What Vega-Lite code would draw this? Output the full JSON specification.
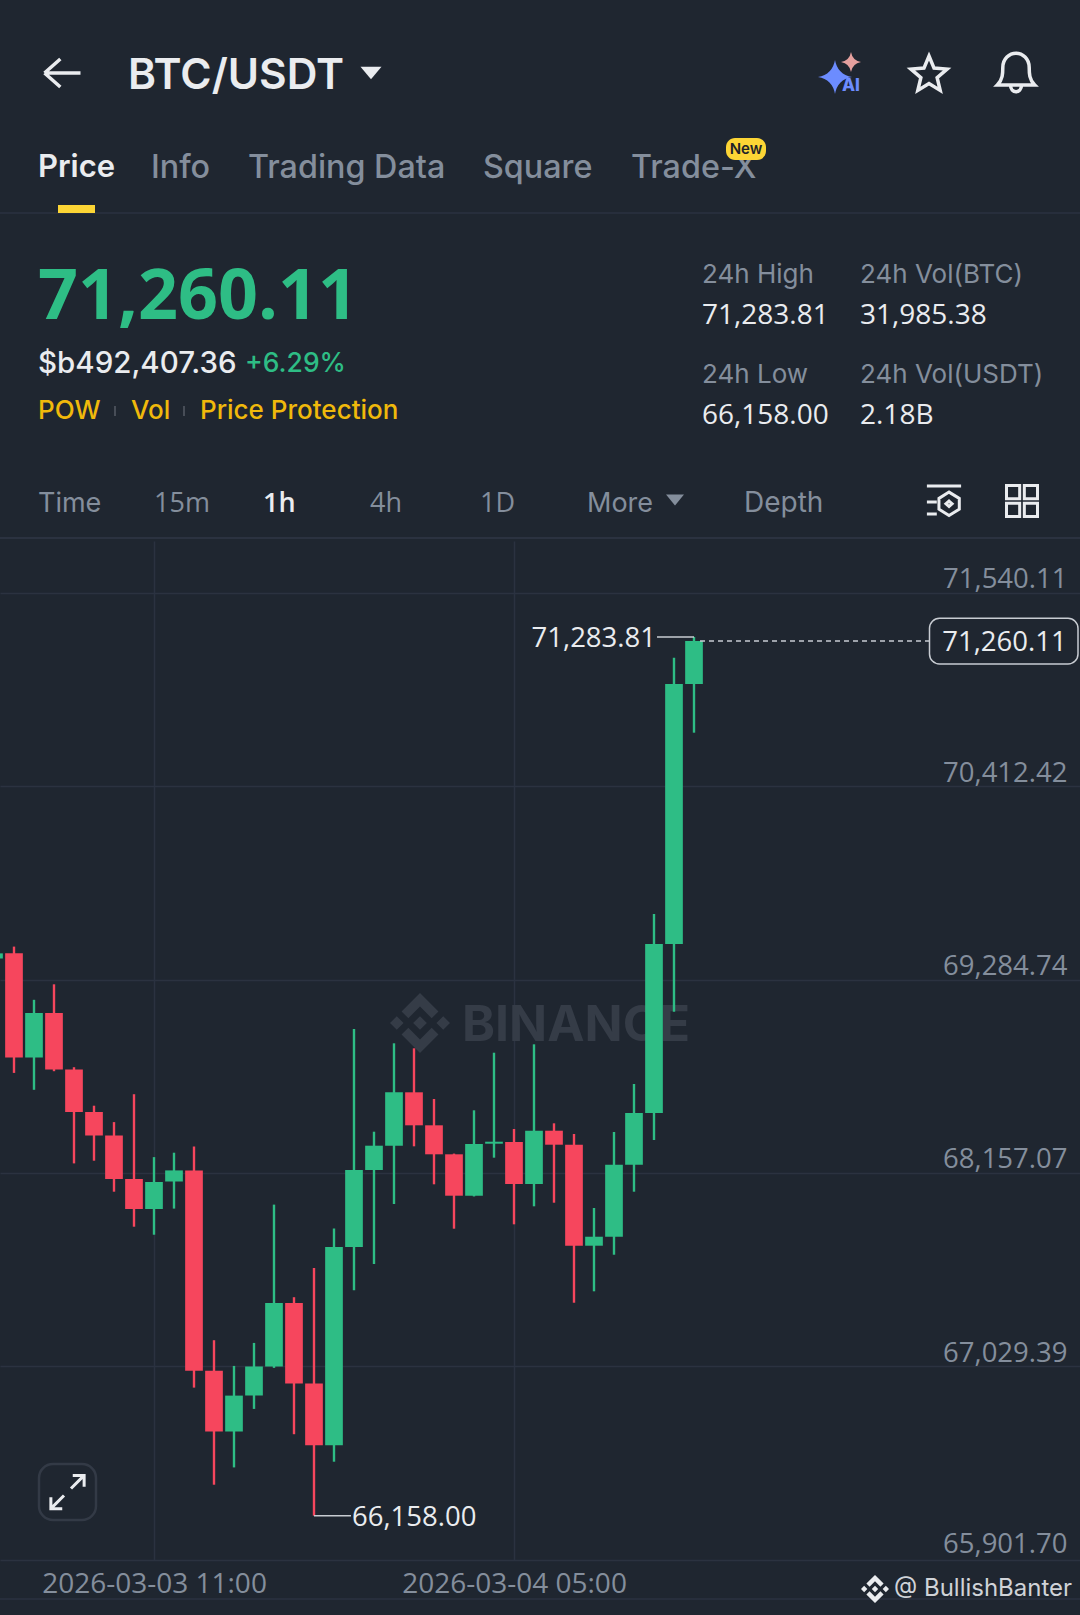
{"$schema":"https://vega.github.io/schema/vega-lite/v6.json","width":1080,"height":1019,"autosize":{"type":"none"},"padding":{"top":541,"left":0,"right":0,"bottom":55},"background":"#1F2630","config":{"view":{"stroke":null},"text":{"font":"Inter","baseline":"middle","align":"left"}},
"data":{"name":"one"},
"datasets":{"one":[{"id":1}],"candles":[
{"time":"2026-03-03T03:00:00Z","open":69408,"high":69445,"low":69400,"close":69438},
{"time":"2026-03-03T04:00:00Z","open":69438.9,"high":69477.4,"low":68740.7,"close":68831.1},
{"time":"2026-03-03T05:00:00Z","open":68831.1,"high":69167.1,"low":68642.1,"close":69089.5},
{"time":"2026-03-03T06:00:00Z","open":69089.5,"high":69257.5,"low":68750.6,"close":68761.1},
{"time":"2026-03-03T07:00:00Z","open":68761.1,"high":68773.9,"low":68212.8,"close":68513.2},
{"time":"2026-03-03T08:00:00Z","open":68513.2,"high":68549.4,"low":68228.5,"close":68376.1},
{"time":"2026-03-03T09:00:00Z","open":68376.1,"high":68453.7,"low":68047.7,"close":68122.4},
{"time":"2026-03-03T10:00:00Z","open":68122.4,"high":68616.4,"low":67843.5,"close":67946.8},
{"time":"2026-03-03T11:00:00Z","open":67946.8,"high":68249.5,"low":67796.8,"close":68104.3},
{"time":"2026-03-03T12:00:00Z","open":68107.2,"high":68275.2,"low":67949.1,"close":68171.9},
{"time":"2026-03-03T13:00:00Z","open":68171.9,"high":68311.4,"low":66904.9,"close":67002.9},
{"time":"2026-03-03T14:00:00Z","open":67002.9,"high":67181.4,"low":66338.5,"close":66648.9},
{"time":"2026-03-03T15:00:00Z","open":66648.9,"high":67031.5,"low":66439.4,"close":66858.3},
{"time":"2026-03-03T16:00:00Z","open":66858.3,"high":67165.7,"low":66780.7,"close":67028.6},
{"time":"2026-03-03T17:00:00Z","open":67028.6,"high":67972.4,"low":67020,"close":67398.5},
{"time":"2026-03-03T18:00:00Z","open":67398.5,"high":67432.3,"low":66633.1,"close":66929.4},
{"time":"2026-03-03T19:00:00Z","open":66929.4,"high":67602.6,"low":66158,"close":66568.4},
{"time":"2026-03-03T20:00:00Z","open":66568.4,"high":67833.1,"low":66472.7,"close":67724.5},
{"time":"2026-03-03T21:00:00Z","open":67724.5,"high":68996.8,"low":67472.5,"close":68174.3},
{"time":"2026-03-03T22:00:00Z","open":68174.3,"high":68397.7,"low":67625.9,"close":68316.1},
{"time":"2026-03-03T23:00:00Z","open":68316.1,"high":68913.4,"low":67975.9,"close":68627.5},
{"time":"2026-03-04T00:00:00Z","open":68627.5,"high":68884.2,"low":68312.5,"close":68435},
{"time":"2026-03-04T01:00:00Z","open":68435,"high":68588.5,"low":68090.9,"close":68265.9},
{"time":"2026-03-04T02:00:00Z","open":68265.9,"high":68270,"low":67831.9,"close":68024.4},
{"time":"2026-03-04T03:00:00Z","open":68024.4,"high":68522.5,"low":68020,"close":68326},
{"time":"2026-03-04T04:00:00Z","open":68327.7,"high":68858.5,"low":68246.1,"close":68339.4},
{"time":"2026-03-04T05:00:00Z","open":68337.6,"high":68413.5,"low":67857.5,"close":68092.6},
{"time":"2026-03-04T06:00:00Z","open":68092.6,"high":68907.5,"low":67962.5,"close":68403.5},
{"time":"2026-03-04T07:00:00Z","open":68403.5,"high":68446.7,"low":67983.5,"close":68321.9},
{"time":"2026-03-04T08:00:00Z","open":68321.9,"high":68384.3,"low":67400.1,"close":67732.7},
{"time":"2026-03-04T09:00:00Z","open":67732.7,"high":67952.6,"low":67466.7,"close":67785.1},
{"time":"2026-03-04T10:00:00Z","open":67785.1,"high":68395.9,"low":67680.1,"close":68205.2},
{"time":"2026-03-04T11:00:00Z","open":68205.2,"high":68675.9,"low":68047.7,"close":68506.8},
{"time":"2026-03-04T12:00:00Z","open":68506.8,"high":69667.6,"low":68349.3,"close":69492.6},
{"time":"2026-03-04T13:00:00Z","open":69492.6,"high":71162.7,"low":69097.7,"close":71009.3},
{"time":"2026-03-04T14:00:00Z","open":71009.3,"high":71283.81,"low":70725.2,"close":71260.11}
],
"extremes":[
{"from":"2026-03-04T12:09:00Z","to":"2026-03-04T14:00:00Z","price":71283.81,"label":"71,283.81"},
{"from":"2026-03-03T19:00:00Z","to":"2026-03-03T20:51:00Z","price":66158,"label":"66,158.00"}
],
"last":[{"from":"2026-03-04T14:18:00Z","to":"2026-03-05T01:46:30Z","price":71260.11,"label":"71,260.11","boxEnd":"2026-03-05T09:12:00Z","top":71392.5,"bottom":71125.9}]
},
"layer":[
{"data":{"name":"candles"},"mark":{"type":"rule","opacity":0},"encoding":{
"x":{"field":"time","type":"temporal","title":null,"scale":{"type":"utc","padding":0,"domain":["2026-03-03T03:18:00Z","2026-03-05T09:18:00Z"]},"axis":{"orient":"bottom","values":[{"year":2026,"month":"mar","date":3,"hours":11,"utc":true},{"year":2026,"month":"mar","date":4,"hours":5,"utc":true}],"format":"%Y-%m-%d %H:%M","grid":true,"gridColor":"#2B3240","gridWidth":1.5,"domain":false,"ticks":false,"labelColor":"#848E9C","labelFont":"Open Sans","labelFontSize":28,"labelPadding":24,"labelBaseline":"middle","labelFlush":false,"labelOverlap":false,"labelLimit":400}},
"y":{"field":"low","type":"quantitative","title":null,"scale":{"domain":[65899.4,71843.4],"nice":false,"zero":false},"axis":{"orient":"right","values":[71540.11,70412.42,69284.74,68157.07,67029.39,65901.7],"format":",.2f","grid":true,"gridColor":"#2B3240","gridWidth":1.5,"domain":false,"ticks":false,"labelColor":"#848E9C","labelFont":"Open Sans","labelFontSize":27.5,"labelAlign":"right","labelBaseline":"middle","labelPadding":-13,"labelOffset":{"condition":{"test":"datum.value<66000","value":-15},"value":-13},"labelFlush":false,"labelBound":false,"labelOverlap":false}}}},
{"mark":{"type":"text","text":"BINANCE","font":"Inter","fontWeight":700,"fontSize":50,"fill":"#353C47"},"encoding":{"x":{"value":462},"y":{"value":485}}},
{"mark":{"type":"point","shape":"M-.388,-.16L0,-.548L.389,-.159L.615,-.385L0,-1L-.614,-.385ZM-1,0L-.774,-.226L-.548,0L-.774,.226ZM-.388,.16L0,.548L.389,.16L.615,.385L0,1L-.615,.386ZM.548,0L.774,-.226L1,0L.774,.226ZM.229,0L0,-.229L-.229,0L0,.229Z","size":3600,"filled":true,"fill":"#353C47","stroke":null,"opacity":1},"encoding":{"x":{"value":420},"y":{"value":482}}},
{"data":{"name":"candles"},"mark":{"type":"rule","strokeWidth":2.4},"encoding":{"x":{"field":"time","type":"temporal"},"y":{"field":"low","type":"quantitative"},"y2":{"field":"high"},"color":{"condition":{"test":"datum.close>=datum.open","value":"#2EBD85"},"value":"#F6465D"}}},
{"data":{"name":"candles"},"mark":{"type":"bar","size":17.7},"encoding":{"x":{"field":"time","type":"temporal"},"y":{"field":"open","type":"quantitative"},"y2":{"field":"close"},"color":{"condition":{"test":"datum.close>=datum.open","value":"#2EBD85"},"value":"#F6465D"}}},
{"data":{"name":"extremes"},"mark":{"type":"rule","stroke":"#C8CCD2","strokeWidth":1.5},"encoding":{"x":{"field":"from","type":"temporal"},"x2":{"field":"to"},"y":{"field":"price","type":"quantitative"}}},
{"data":{"name":"extremes"},"transform":[{"filter":"datum.price>70000"}],"mark":{"type":"text","align":"right","font":"Open Sans","fontSize":27.5,"fill":"#EAECEF","dx":-1,"dy":2},"encoding":{"x":{"field":"from","type":"temporal"},"y":{"field":"price","type":"quantitative"},"text":{"field":"label"}}},
{"data":{"name":"extremes"},"transform":[{"filter":"datum.price<70000"}],"mark":{"type":"text","align":"left","font":"Open Sans","fontSize":27.5,"fill":"#EAECEF","dx":1,"dy":2},"encoding":{"x":{"field":"to","type":"temporal"},"y":{"field":"price","type":"quantitative"},"text":{"field":"label"}}},
{"data":{"name":"last"},"mark":{"type":"rule","stroke":"#C8CCD2","strokeWidth":1.5,"strokeDash":[5,4]},"encoding":{"x":{"field":"from","type":"temporal"},"x2":{"field":"to"},"y":{"field":"price","type":"quantitative"}}},
{"data":{"name":"last"},"mark":{"type":"rect","fill":"#1F2630","stroke":"#C8CCD2","strokeWidth":1.5,"cornerRadius":10},"encoding":{"x":{"field":"to","type":"temporal"},"x2":{"field":"boxEnd"},"y":{"field":"top","type":"quantitative"},"y2":{"field":"bottom"}}},
{"data":{"name":"last"},"mark":{"type":"text","align":"center","font":"Open Sans","fontSize":27.5,"fill":"#EAECEF","dx":75,"dy":2},"encoding":{"x":{"field":"to","type":"temporal"},"y":{"field":"price","type":"quantitative"},"text":{"field":"label"}}},

{"mark":{"type":"rule","stroke":"#2B3240","strokeWidth":1.5},"encoding":{"x":{"value":0},"x2":{"value":1080},"y":{"value":-328}}},
{"mark":{"type":"rule","stroke":"#2B3240","strokeWidth":2},"encoding":{"x":{"value":0},"x2":{"value":1080},"y":{"value":-3}}},
{"mark":{"type":"rule","stroke":"#2B3240","strokeWidth":1.5},"encoding":{"x":{"value":0},"x2":{"value":1080},"y":{"value":1058}}},
{"mark":{"type":"rect","fill":"#FCD535"},"encoding":{"x":{"value":58},"x2":{"value":95},"y":{"value":-336},"y2":{"value":-328}}},

{"mark":{"type":"point","shape":"M-1,0H1M-1,0L-.12,-.78M-1,0L-.12,.78","size":1296,"filled":false,"stroke":"#EAECEF","strokeWidth":3.5,"opacity":1},"encoding":{"x":{"value":62.5},"y":{"value":-468}}},
{"mark":{"type":"text","text":"BTC/USDT","fontSize":42.5,"fontWeight":600,"fill":"#EAECEF"},"encoding":{"x":{"value":128},"y":{"value":-465}}},
{"mark":{"type":"point","shape":"M-1,-.6L1,-.6L0,.6Z","size":441,"filled":true,"fill":"#EAECEF","stroke":null,"opacity":1},"encoding":{"x":{"value":371},"y":{"value":-468}}},
{"mark":{"type":"point","shape":"M0,-1Q.15,-.15 1,0Q.15,.15 0,1Q-.15,.15 -1,0Q-.15,-.15 0,-1Z","size":1156,"filled":true,"fill":"#6C8CFF","stroke":null,"opacity":1},"encoding":{"x":{"value":835},"y":{"value":-464}}},
{"mark":{"type":"point","shape":"M0,-1Q.15,-.15 1,0Q.15,.15 0,1Q-.15,.15 -1,0Q-.15,-.15 0,-1Z","size":400,"filled":true,"fill":"#E5A09E","stroke":null,"opacity":1},"encoding":{"x":{"value":851},"y":{"value":-479}}},
{"mark":{"type":"text","text":"AI","fontSize":17,"fontWeight":800,"fill":"#6C8CFF"},"encoding":{"x":{"value":842},"y":{"value":-455}}},
{"mark":{"type":"point","shape":"M0,-1L.265,-.364L.951,-.309L.428,.139L.588,.809L0,.45L-.588,.809L-.428,.139L-.951,-.309L-.265,-.364Z","size":1444,"filled":false,"stroke":"#EAECEF","strokeWidth":3.5,"opacity":1},"encoding":{"x":{"value":929},"y":{"value":-466}}},
{"mark":{"type":"point","shape":"M-.85,.55C-.6,.3 -.6,0 -.6,-.25C-.6,-.65 -.3,-.9 0,-.9C.3,-.9 .6,-.65 .6,-.25C.6,0 .6,.3 .85,.55ZM-.25,.55C-.25,.95 .25,.95 .25,.55","size":1936,"filled":false,"stroke":"#EAECEF","strokeWidth":3.5,"opacity":1},"encoding":{"x":{"value":1016},"y":{"value":-468}}},

{"mark":{"type":"text","text":"Price","fontSize":31,"fontWeight":600,"fill":"#EAECEF"},"encoding":{"x":{"value":38},"y":{"value":-373}}},
{"mark":{"type":"text","text":"Info","fontSize":32.3,"fontWeight":500,"fill":"#848E9C"},"encoding":{"x":{"value":151},"y":{"value":-373}}},
{"mark":{"type":"text","text":"Trading Data","fontSize":32.3,"fontWeight":500,"fill":"#848E9C"},"encoding":{"x":{"value":248},"y":{"value":-373}}},
{"mark":{"type":"text","text":"Square","fontSize":32.3,"fontWeight":500,"fill":"#848E9C"},"encoding":{"x":{"value":483},"y":{"value":-373}}},
{"mark":{"type":"text","text":"Trade-X","fontSize":32.3,"fontWeight":500,"fill":"#848E9C"},"encoding":{"x":{"value":631},"y":{"value":-373}}},
{"mark":{"type":"rect","fill":"#FCD535","cornerRadius":9},"encoding":{"x":{"value":726},"x2":{"value":766},"y":{"value":-403},"y2":{"value":-381}}},
{"mark":{"type":"text","text":"New","align":"center","fontSize":15,"fontWeight":600,"fill":"#1E2329"},"encoding":{"x":{"value":746},"y":{"value":-392}}},

{"mark":{"type":"text","text":"71,260.11","font":"Open Sans","fontSize":70,"fontWeight":700,"fill":"#2EBD85"},"encoding":{"x":{"value":38},"y":{"value":-243}}},
{"mark":{"type":"text","text":"$b492,407.36","fontSize":29.5,"fontWeight":500,"fill":"#EAECEF"},"encoding":{"x":{"value":38},"y":{"value":-177}}},
{"mark":{"type":"text","text":"+6.29%","fontSize":26.5,"fontWeight":500,"fill":"#2EBD85"},"encoding":{"x":{"value":245},"y":{"value":-177}}},
{"mark":{"type":"text","text":"POW","fontSize":26,"fontWeight":500,"fill":"#F0B90B"},"encoding":{"x":{"value":38},"y":{"value":-130}}},
{"mark":{"type":"text","text":"Vol","fontSize":26,"fontWeight":500,"fill":"#F0B90B"},"encoding":{"x":{"value":131},"y":{"value":-130}}},
{"mark":{"type":"text","text":"Price Protection","fontSize":26,"fontWeight":500,"fill":"#F0B90B"},"encoding":{"x":{"value":200},"y":{"value":-130}}},
{"mark":{"type":"rule","stroke":"#474D57","strokeWidth":2},"encoding":{"x":{"value":115},"y":{"value":-135},"y2":{"value":-125}}},
{"mark":{"type":"rule","stroke":"#474D57","strokeWidth":2},"encoding":{"x":{"value":184},"y":{"value":-135},"y2":{"value":-125}}},

{"mark":{"type":"text","text":"24h High","fontSize":26,"fill":"#848E9C"},"encoding":{"x":{"value":702},"y":{"value":-266}}},
{"mark":{"type":"text","text":"71,283.81","fontSize":28,"font":"Open Sans","fill":"#EAECEF"},"encoding":{"x":{"value":702},"y":{"value":-225}}},
{"mark":{"type":"text","text":"24h Low","fontSize":26,"fill":"#848E9C"},"encoding":{"x":{"value":702},"y":{"value":-166}}},
{"mark":{"type":"text","text":"66,158.00","fontSize":28,"font":"Open Sans","fill":"#EAECEF"},"encoding":{"x":{"value":702},"y":{"value":-125}}},
{"mark":{"type":"text","text":"24h Vol(BTC)","fontSize":26,"fill":"#848E9C"},"encoding":{"x":{"value":860},"y":{"value":-266}}},
{"mark":{"type":"text","text":"31,985.38","fontSize":28,"font":"Open Sans","fill":"#EAECEF"},"encoding":{"x":{"value":860},"y":{"value":-225}}},
{"mark":{"type":"text","text":"24h Vol(USDT)","fontSize":26,"fill":"#848E9C"},"encoding":{"x":{"value":860},"y":{"value":-166}}},
{"mark":{"type":"text","text":"2.18B","fontSize":28,"font":"Open Sans","fill":"#EAECEF"},"encoding":{"x":{"value":860},"y":{"value":-125}}},

{"mark":{"type":"text","text":"Time","fontSize":27,"fill":"#848E9C"},"encoding":{"x":{"value":38},"y":{"value":-37}}},
{"mark":{"type":"text","text":"15m","fontSize":27,"font":"Open Sans","fill":"#848E9C"},"encoding":{"x":{"value":154},"y":{"value":-37}}},
{"mark":{"type":"text","text":"1h","fontSize":27,"font":"Open Sans","fontWeight":600,"fill":"#EAECEF"},"encoding":{"x":{"value":263},"y":{"value":-37}}},
{"mark":{"type":"text","text":"4h","fontSize":27,"font":"Open Sans","fill":"#848E9C"},"encoding":{"x":{"value":370},"y":{"value":-37}}},
{"mark":{"type":"text","text":"1D","fontSize":27,"font":"Open Sans","fill":"#848E9C"},"encoding":{"x":{"value":480},"y":{"value":-37}}},
{"mark":{"type":"text","text":"More","fontSize":27,"fill":"#848E9C"},"encoding":{"x":{"value":587},"y":{"value":-37}}},
{"mark":{"type":"point","shape":"M-1,-.6L1,-.6L0,.6Z","size":324,"filled":true,"fill":"#848E9C","stroke":null,"opacity":1},"encoding":{"x":{"value":675},"y":{"value":-41}}},
{"mark":{"type":"text","text":"Depth","fontSize":28,"fill":"#848E9C"},"encoding":{"x":{"value":744},"y":{"value":-37}}},
{"mark":{"type":"point","shape":"M-.95,-.89H.95M-.95,0H-.4M-.95,.67H-.4M.28,-.55L.85,-.2V.4L.28,.75L-.28,.4V-.2ZM.28,-.05L.45,.1L.28,.25L.11,.1Z","size":1296,"filled":false,"stroke":"#EAECEF","strokeWidth":3,"opacity":1},"encoding":{"x":{"value":944},"y":{"value":-39}}},
{"mark":{"type":"point","shape":"M-1,-1H-.15V-.15H-1ZM.15,-1H1V-.15H.15ZM-1,.15H-.15V1H-1ZM.15,.15H1V1H.15Z","size":961,"filled":false,"stroke":"#EAECEF","strokeWidth":3,"opacity":1},"encoding":{"x":{"value":1022},"y":{"value":-40}}},

{"mark":{"type":"rect","fill":"#1F2630","fillOpacity":0,"stroke":"#333A46","strokeWidth":2.5,"cornerRadius":14},"encoding":{"x":{"value":39},"x2":{"value":96},"y":{"value":923},"y2":{"value":979}}},
{"mark":{"type":"point","shape":"M.2,-.2L.95,-.95M.3,-.95H.95V-.3M-.2,.2L-.95,.95M-.3,.95H-.95V.3","size":1225,"filled":false,"stroke":"#EAECEF","strokeWidth":3,"opacity":1},"encoding":{"x":{"value":67.5},"y":{"value":951}}},

{"mark":{"type":"point","shape":"M-.388,-.16L0,-.548L.389,-.159L.615,-.385L0,-1L-.614,-.385ZM-1,0L-.774,-.226L-.548,0L-.774,.226ZM-.388,.16L0,.548L.389,.16L.615,.385L0,1L-.615,.386ZM.548,0L.774,-.226L1,0L.774,.226ZM.229,0L0,-.229L-.229,0L0,.229Z","size":784,"filled":true,"fill":"#EAECEF","stroke":null,"opacity":1},"encoding":{"x":{"value":875},"y":{"value":1048}}},
{"mark":{"type":"text","text":"@ BullishBanter","fontSize":24,"fill":"#D0D3D8"},"encoding":{"x":{"value":894},"y":{"value":1048}}}
]}
